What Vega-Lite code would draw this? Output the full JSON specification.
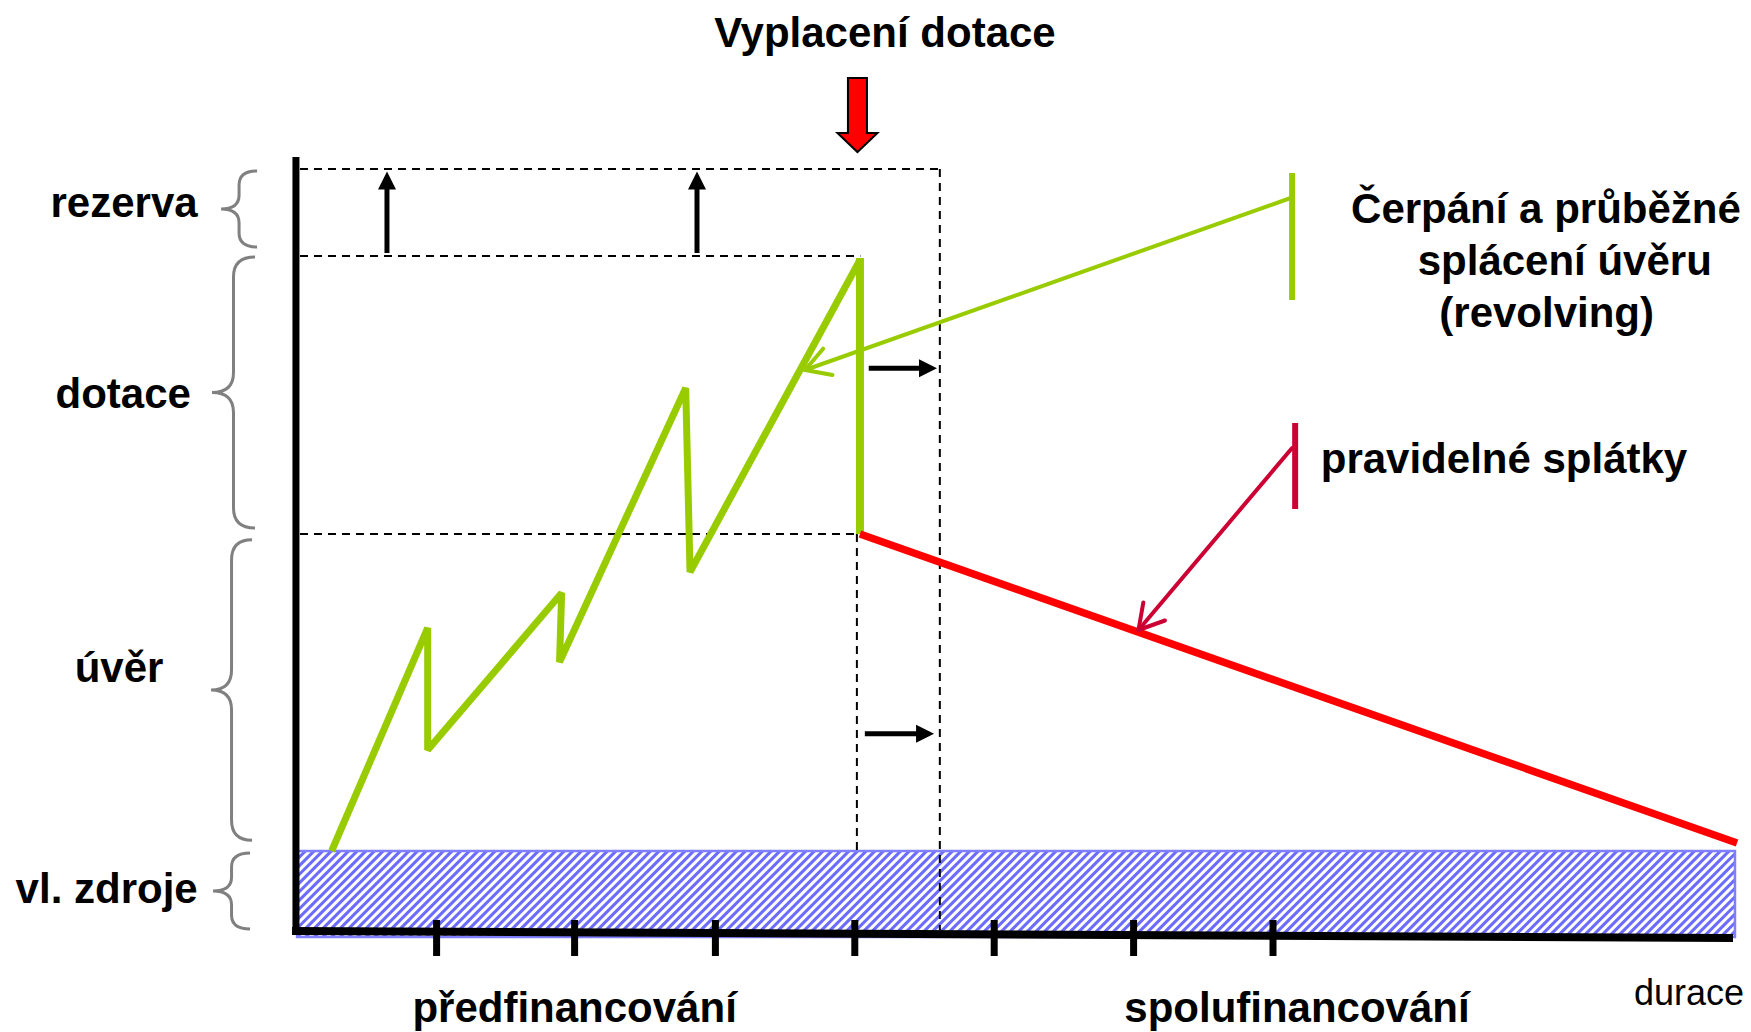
{
  "$schema": "https://vega.github.io/schema/vega-lite/v6.json",
  "width": 1751,
  "height": 1032,
  "autosize": {"type": "fit", "contains": "padding"},
  "padding": 0,
  "background": "white",
  "config": {"view": {"stroke": null}},
  "datasets": {
    "hatch": [{"t": 5.146, "a": 3.7}],
    "band": [{"t": -0.011, "t2": 10.304, "a": 8.0, "a2": -0.6}],
    "guides": [
      {"t": 0.01, "a": 76.2, "t2": 4.6, "a2": 76.2},
      {"t": 0.01, "a": 67.5, "t2": 4.03, "a2": 67.5},
      {"t": 0.01, "a": 39.7, "t2": 4.01, "a2": 39.7},
      {"t": 4.6, "a": 76.2, "t2": 4.6, "a2": 0.1},
      {"t": 4.005, "a": 39.7, "t2": 4.005, "a2": 8.0}
    ],
    "yaxis": [{"t": -0.019, "a": 77.4, "t2": -0.019, "a2": -0.4}],
    "xaxis": [{"t": -0.047, "a": 0, "t2": 10.29, "a2": -0.7}],
    "ticks": [
      {"t": 0.99, "a": 1.1, "a2": -2.5},
      {"t": 1.98, "a": 1.1, "a2": -2.5},
      {"t": 2.99, "a": 1.1, "a2": -2.5},
      {"t": 3.99, "a": 1.1, "a2": -2.5},
      {"t": 4.99, "a": 1.1, "a2": -2.5},
      {"t": 5.99, "a": 1.1, "a2": -2.5},
      {"t": 6.99, "a": 1.1, "a2": -2.5}
    ],
    "revolving": [
      {"i": 1, "t": 0.237, "a": 8.0},
      {"i": 2, "t": 0.926, "a": 30.3},
      {"i": 3, "t": 0.926, "a": 18.1},
      {"i": 4, "t": 1.887, "a": 33.8},
      {"i": 5, "t": 1.872, "a": 26.9},
      {"i": 6, "t": 2.777, "a": 54.3},
      {"i": 7, "t": 2.808, "a": 35.9},
      {"i": 8, "t": 4.027, "a": 67.1}
    ],
    "payout": [{"t": 4.027, "a": 67.3, "t2": 4.027, "a2": 39.7}],
    "repayment": [{"t": 4.027, "a": 39.7, "t2": 10.319, "a2": 8.8}],
    "shafts": [
      {"t": 0.634, "a": 67.8, "t2": 0.634, "a2": 74.4},
      {"t": 2.858, "a": 67.8, "t2": 2.858, "a2": 74.4},
      {"t": 4.09, "a": 56.27, "t2": 4.47, "a2": 56.27},
      {"t": 4.062, "a": 19.73, "t2": 4.45, "a2": 19.73}
    ],
    "headsUp": [{"t": 0.634, "a": 75.05}, {"t": 2.858, "a": 75.05}],
    "headsRight": [{"t": 4.515, "a": 56.27}, {"t": 4.494, "a": 19.73}],
    "payArrow": [{"t": 4.009, "a": 81.6}],
    "greenBar": [{"t": 7.127, "a": 75.8, "t2": 7.127, "a2": 63.1}],
    "greenPointer": [
      {"t": 7.127, "a": 73.35, "t2": 3.633, "a2": 56.1},
      {"t": 3.633, "a": 56.1, "t2": 3.83, "a2": 55.6},
      {"t": 3.633, "a": 56.1, "t2": 3.763, "a2": 58.23}
    ],
    "redBar": [{"t": 7.149, "a": 50.8, "t2": 7.149, "a2": 42.2}],
    "redPointer": [
      {"t": 7.127, "a": 48.3, "t2": 6.025, "a2": 30.1},
      {"t": 6.025, "a": 30.1, "t2": 6.215, "a2": 31.05},
      {"t": 6.025, "a": 30.1, "t2": 6.06, "a2": 32.86}
    ],
    "braces": [
      {"part": "rezerva", "t": -0.427, "a": 72.2},
      {"part": "dotace", "t": -0.467, "a": 53.85},
      {"part": "uver", "t": -0.481, "a": 24.1},
      {"part": "zdroje", "t": -0.481, "a": 4.0}
    ],
    "labels": [
      {"label": "Vyplacení dotace", "t": 4.206, "a": 88.43},
      {"label": "rezerva", "t": -1.252, "a": 71.43},
      {"label": "dotace", "t": -1.258, "a": 52.27},
      {"label": "úvěr", "t": -1.288, "a": 24.93},
      {"label": "vl. zdroje", "t": -1.377, "a": 2.8},
      {"label": "Čerpání a průběžné", "t": 8.948, "a": 70.77},
      {"label": "splácení úvěru", "t": 9.083, "a": 65.6},
      {"label": "(revolving)", "t": 8.953, "a": 60.43},
      {"label": "pravidelné splátky", "t": 8.647, "a": 45.77},
      {"label": "předfinancování", "t": 1.98, "a": -9.1},
      {"label": "spolufinancování", "t": 7.162, "a": -9.1}
    ],
    "axisTitle": [{"label": "durace", "t": 9.974, "a": -7.4}]
  },
  "encoding": {
    "x": {"field": "t", "type": "quantitative", "scale": {"domain": [-2.142, 10.419], "nice": false, "zero": false}, "axis": null},
    "y": {"field": "a", "type": "quantitative", "scale": {"domain": [-10.1, 93.1], "nice": false, "zero": false}, "axis": null}
  },
  "layer": [
    {
      "data": {"name": "hatch"},
      "mark": {"type": "point", "filled": false, "opacity": 1, "stroke": "#6c6cff", "strokeWidth": 3, "size": 2067844,
        "shape": "M-1,-0.048L-0.988,-0.06M-1,-0.036L-0.976,-0.06M-1,-0.024L-0.964,-0.06M-1,-0.012L-0.952,-0.06M-1,0L-0.94,-0.06M-1,0.012L-0.928,-0.06M-1,0.024L-0.916,-0.06M-1,0.036L-0.904,-0.06M-1,0.048L-0.892,-0.06M-1,0.06l0.12,-0.12m-0.108,0.12l0.12,-0.12m-0.108,0.12l0.12,-0.12m-0.108,0.12l0.12,-0.12m-0.108,0.12l0.12,-0.12m-0.108,0.12l0.12,-0.12m-0.108,0.12l0.12,-0.12m-0.108,0.12l0.12,-0.12m-0.108,0.12l0.12,-0.12m-0.108,0.12l0.12,-0.12M-0.88,0.06l0.12,-0.12m-0.108,0.12l0.12,-0.12m-0.108,0.12l0.12,-0.12m-0.108,0.12l0.12,-0.12m-0.108,0.12l0.12,-0.12m-0.108,0.12l0.12,-0.12m-0.108,0.12l0.12,-0.12m-0.108,0.12l0.12,-0.12m-0.108,0.12l0.12,-0.12m-0.108,0.12l0.12,-0.12M-0.76,0.06l0.12,-0.12m-0.108,0.12l0.12,-0.12m-0.108,0.12l0.12,-0.12m-0.108,0.12l0.12,-0.12m-0.108,0.12l0.12,-0.12m-0.108,0.12l0.12,-0.12m-0.108,0.12l0.12,-0.12m-0.108,0.12l0.12,-0.12m-0.108,0.12l0.12,-0.12m-0.108,0.12l0.12,-0.12M-0.64,0.06l0.12,-0.12m-0.108,0.12l0.12,-0.12m-0.108,0.12l0.12,-0.12m-0.108,0.12l0.12,-0.12m-0.108,0.12l0.12,-0.12m-0.108,0.12l0.12,-0.12m-0.108,0.12l0.12,-0.12m-0.108,0.12l0.12,-0.12m-0.108,0.12l0.12,-0.12m-0.108,0.12l0.12,-0.12M-0.52,0.06l0.12,-0.12m-0.108,0.12l0.12,-0.12m-0.108,0.12l0.12,-0.12m-0.108,0.12l0.12,-0.12m-0.108,0.12l0.12,-0.12m-0.108,0.12l0.12,-0.12m-0.108,0.12l0.12,-0.12m-0.108,0.12l0.12,-0.12m-0.108,0.12l0.12,-0.12m-0.108,0.12l0.12,-0.12M-0.4,0.06l0.12,-0.12m-0.108,0.12l0.12,-0.12m-0.108,0.12l0.12,-0.12m-0.108,0.12l0.12,-0.12m-0.108,0.12l0.12,-0.12m-0.108,0.12l0.12,-0.12m-0.108,0.12l0.12,-0.12m-0.108,0.12l0.12,-0.12m-0.108,0.12l0.12,-0.12m-0.108,0.12l0.12,-0.12M-0.28,0.06l0.12,-0.12m-0.108,0.12l0.12,-0.12m-0.108,0.12l0.12,-0.12m-0.108,0.12l0.12,-0.12m-0.108,0.12l0.12,-0.12m-0.108,0.12l0.12,-0.12m-0.108,0.12l0.12,-0.12m-0.108,0.12l0.12,-0.12m-0.108,0.12l0.12,-0.12m-0.108,0.12l0.12,-0.12M-0.16,0.06l0.12,-0.12m-0.108,0.12l0.12,-0.12m-0.108,0.12l0.12,-0.12m-0.108,0.12l0.12,-0.12m-0.108,0.12l0.12,-0.12m-0.108,0.12l0.12,-0.12m-0.108,0.12l0.12,-0.12m-0.108,0.12l0.12,-0.12m-0.108,0.12l0.12,-0.12m-0.108,0.12l0.12,-0.12M-0.04,0.06l0.12,-0.12m-0.108,0.12l0.12,-0.12m-0.108,0.12l0.12,-0.12m-0.108,0.12l0.12,-0.12m-0.108,0.12l0.12,-0.12m-0.108,0.12l0.12,-0.12m-0.108,0.12l0.12,-0.12m-0.108,0.12l0.12,-0.12m-0.108,0.12l0.12,-0.12m-0.108,0.12l0.12,-0.12M0.08,0.06l0.12,-0.12m-0.108,0.12l0.12,-0.12m-0.108,0.12l0.12,-0.12m-0.108,0.12l0.12,-0.12m-0.108,0.12l0.12,-0.12m-0.108,0.12l0.12,-0.12m-0.108,0.12l0.12,-0.12m-0.108,0.12l0.12,-0.12m-0.108,0.12l0.12,-0.12m-0.108,0.12l0.12,-0.12M0.2,0.06l0.12,-0.12m-0.108,0.12l0.12,-0.12m-0.108,0.12l0.12,-0.12m-0.108,0.12l0.12,-0.12m-0.108,0.12l0.12,-0.12m-0.108,0.12l0.12,-0.12m-0.108,0.12l0.12,-0.12m-0.108,0.12l0.12,-0.12m-0.108,0.12l0.12,-0.12m-0.108,0.12l0.12,-0.12M0.32,0.06l0.12,-0.12m-0.108,0.12l0.12,-0.12m-0.108,0.12l0.12,-0.12m-0.108,0.12l0.12,-0.12m-0.108,0.12l0.12,-0.12m-0.108,0.12l0.12,-0.12m-0.108,0.12l0.12,-0.12m-0.108,0.12l0.12,-0.12m-0.108,0.12l0.12,-0.12m-0.108,0.12l0.12,-0.12M0.44,0.06l0.12,-0.12m-0.108,0.12l0.12,-0.12m-0.108,0.12l0.12,-0.12m-0.108,0.12l0.12,-0.12m-0.108,0.12l0.12,-0.12m-0.108,0.12l0.12,-0.12m-0.108,0.12l0.12,-0.12m-0.108,0.12l0.12,-0.12m-0.108,0.12l0.12,-0.12m-0.108,0.12l0.12,-0.12M0.56,0.06l0.12,-0.12m-0.108,0.12l0.12,-0.12m-0.108,0.12l0.12,-0.12m-0.108,0.12l0.12,-0.12m-0.108,0.12l0.12,-0.12m-0.108,0.12l0.12,-0.12m-0.108,0.12l0.12,-0.12m-0.108,0.12l0.12,-0.12m-0.108,0.12l0.12,-0.12m-0.108,0.12l0.12,-0.12M0.68,0.06l0.12,-0.12m-0.108,0.12l0.12,-0.12m-0.108,0.12l0.12,-0.12m-0.108,0.12l0.12,-0.12m-0.108,0.12l0.12,-0.12m-0.108,0.12l0.12,-0.12m-0.108,0.12l0.12,-0.12m-0.108,0.12l0.12,-0.12m-0.108,0.12l0.12,-0.12m-0.108,0.12l0.12,-0.12M0.8,0.06l0.12,-0.12m-0.108,0.12l0.12,-0.12m-0.108,0.12l0.12,-0.12m-0.108,0.12l0.12,-0.12m-0.108,0.12l0.12,-0.12m-0.108,0.12l0.12,-0.12m-0.108,0.12l0.12,-0.12M0.884,0.06L1,-0.056M0.896,0.06L1,-0.044M0.908,0.06L1,-0.032M0.92,0.06L1,-0.02M0.932,0.06L1,-0.008M0.944,0.06L1,0.004M0.956,0.06L1,0.016M0.968,0.06L1,0.028M0.98,0.06L1,0.04M0.992,0.06L1,0.052"
      }
    },
    {
      "data": {"name": "band"},
      "mark": {"type": "rect", "fill": null, "fillOpacity": 0, "stroke": "#8080ff", "strokeWidth": 2.5},
      "encoding": {"x2": {"field": "t2"}, "y2": {"field": "a2"}}
    },
    {
      "data": {"name": "guides"},
      "mark": {"type": "rule", "color": "black", "strokeWidth": 2, "strokeDash": [8, 6]},
      "encoding": {"x2": {"field": "t2"}, "y2": {"field": "a2"}}
    },
    {
      "data": {"name": "revolving"},
      "mark": {"type": "line", "color": "#99cc00", "strokeWidth": 7, "strokeJoin": "bevel", "strokeCap": "butt"},
      "encoding": {"order": {"field": "i", "type": "quantitative"}}
    },
    {
      "data": {"name": "payout"},
      "mark": {"type": "rule", "color": "#99cc00", "strokeWidth": 8},
      "encoding": {"x2": {"field": "t2"}, "y2": {"field": "a2"}}
    },
    {
      "data": {"name": "repayment"},
      "mark": {"type": "rule", "color": "#ff0000", "strokeWidth": 7.5},
      "encoding": {"x2": {"field": "t2"}, "y2": {"field": "a2"}}
    },
    {
      "data": {"name": "yaxis"},
      "mark": {"type": "rule", "color": "black", "strokeWidth": 7},
      "encoding": {"x2": {"field": "t2"}, "y2": {"field": "a2"}}
    },
    {
      "data": {"name": "xaxis"},
      "mark": {"type": "rule", "color": "black", "strokeWidth": 8},
      "encoding": {"x2": {"field": "t2"}, "y2": {"field": "a2"}}
    },
    {
      "data": {"name": "ticks"},
      "mark": {"type": "rule", "color": "black", "strokeWidth": 7},
      "encoding": {"y2": {"field": "a2"}}
    },
    {
      "data": {"name": "shafts"},
      "mark": {"type": "rule", "color": "black", "strokeWidth": 5},
      "encoding": {"x2": {"field": "t2"}, "y2": {"field": "a2"}}
    },
    {
      "data": {"name": "headsUp"},
      "mark": {"type": "point", "filled": true, "opacity": 1, "color": "black", "size": 324, "shape": "M0,-1L-1,1L1,1Z"}
    },
    {
      "data": {"name": "headsRight"},
      "mark": {"type": "point", "filled": true, "opacity": 1, "color": "black", "size": 324, "shape": "M1,0L-1,-1L-1,1Z"}
    },
    {
      "data": {"name": "payArrow"},
      "mark": {"type": "point", "filled": true, "opacity": 1, "fill": "#ff0000", "stroke": "black", "strokeWidth": 2, "strokeJoin": "miter", "size": 6400,
        "shape": "M-0.2375,-0.925L0.2375,-0.925L0.2375,0.45L0.5,0.45L0,0.925L-0.5,0.45L-0.2375,0.45Z"}
    },
    {
      "data": {"name": "greenBar"},
      "mark": {"type": "rule", "color": "#99cc00", "strokeWidth": 6},
      "encoding": {"x2": {"field": "t2"}, "y2": {"field": "a2"}}
    },
    {
      "data": {"name": "greenPointer"},
      "mark": {"type": "rule", "color": "#99cc00", "strokeWidth": 4, "strokeCap": "round"},
      "encoding": {"x2": {"field": "t2"}, "y2": {"field": "a2"}}
    },
    {
      "data": {"name": "redBar"},
      "mark": {"type": "rule", "color": "#cc0033", "strokeWidth": 6},
      "encoding": {"x2": {"field": "t2"}, "y2": {"field": "a2"}}
    },
    {
      "data": {"name": "redPointer"},
      "mark": {"type": "rule", "color": "#cc0033", "strokeWidth": 4, "strokeCap": "round"},
      "encoding": {"x2": {"field": "t2"}, "y2": {"field": "a2"}}
    },
    {
      "data": {"name": "braces"},
      "mark": {"type": "point", "filled": false, "opacity": 1, "stroke": "#808080", "strokeWidth": 3, "size": 40000},
      "encoding": {
        "shape": {
          "field": "part", "type": "nominal", "legend": null,
          "scale": {
            "domain": ["rezerva", "dotace", "uver", "zdroje"],
            "range": [
              "M0.18,-0.38Q0,-0.38 0,-0.24L0,-0.14Q0,0 -0.18,0Q0,0 0,0.14L0,0.24Q0,0.38 0.18,0.38",
              "M0.215,-1.355Q0,-1.355 0,-1.155L0,-0.2Q0,0 -0.215,0Q0,0 0,0.2L0,1.155Q0,1.355 0.215,1.355",
              "M0.205,-1.503Q0,-1.503 0,-1.303L0,-0.2Q0,0 -0.205,0Q0,0 0,0.2L0,1.303Q0,1.503 0.205,1.503",
              "M0.185,-0.38Q0,-0.38 0,-0.24L0,-0.14Q0,0 -0.185,0Q0,0 0,0.14L0,0.24Q0,0.38 0.185,0.38"
            ]
          }
        }
      }
    },
    {
      "data": {"name": "labels"},
      "mark": {"type": "text", "font": "Liberation Sans", "fontSize": 42, "fontWeight": "bold", "align": "center", "baseline": "alphabetic", "color": "black"},
      "encoding": {"text": {"field": "label", "type": "nominal"}}
    },
    {
      "data": {"name": "axisTitle"},
      "mark": {"type": "text", "font": "Liberation Sans", "fontSize": 36, "fontWeight": "normal", "align": "center", "baseline": "alphabetic", "color": "black"},
      "encoding": {"text": {"field": "label", "type": "nominal"}}
    }
  ]
}
